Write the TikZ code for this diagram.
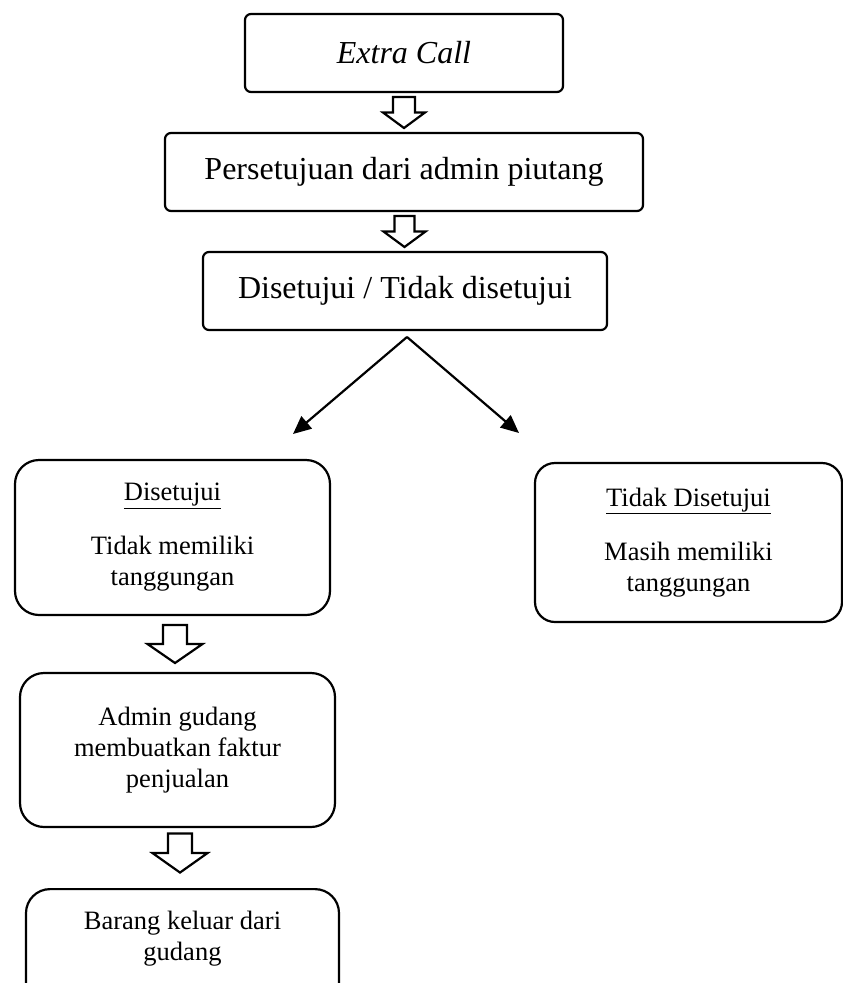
\documentclass[tikz,border=0pt]{standalone}
\usepackage{fontspec}
\setmainfont{Liberation Serif}
\usepackage{tikz}
\usetikzlibrary{arrows.meta,positioning,calc}
\tikzset{
  topbox/.style={rectangle,draw,line width=2.2pt,rounded corners=6pt,minimum height=78pt,
    font=\fontsize{32}{38}\selectfont},
  lowbox/.style={rectangle,draw,line width=2.2pt,rounded corners=24pt,align=center,
    font=\fontsize{26.5}{31}\selectfont},
  splitarrow/.style={-{Triangle[length=18pt,width=16pt]}, line width=2.2pt},
  pics/hollowdown/.style n args={3}{code={
    \draw[line width=2.2pt] (-#1,-#3/2) -- (-#1,0) -- (-#2,0) -- (0,#3/2)
      -- (#2,0) -- (#1,0) -- (#1,-#3/2) -- cycle;
  }}
}

\begin{document}
\begin{tikzpicture}[x=1pt,y=-1pt]
  \useasboundingbox (0,0) rectangle (843,983);
  \clip (0,0) rectangle (843,983);
  % top column
  \node[topbox, minimum width=318pt, font=\fontsize{32}{38}\selectfont\itshape] (extra) at (404,53) {Extra Call};
  \node[topbox, minimum width=478pt] (approval) at (404,172) {Persetujuan dari admin piutang};
  \node[topbox, minimum width=404pt] (decision) at (405,291) {Disetujui / Tidak disetujui};
  \pic at ($(extra.south)!0.5!(approval.north)$) {hollowdown={11}{21}{31}};
  \pic at ($(approval.south)!0.5!(decision.north)$) {hollowdown={10}{21}{31}};
  % split
  \coordinate (split) at (407,337);
  \coordinate (yesend) at (293,434);
  \coordinate (noend) at (519,433);
  \draw[splitarrow] (split) -- (yesend);
  \draw[splitarrow] (split) -- (noend);
  % outcomes
  \node[lowbox, minimum width=315pt, minimum height=155pt] (yes) at (172.5,537.5)
    {\underline{Disetujui}\\[23pt]Tidak memiliki\\tanggungan};
  \node[lowbox, minimum width=307pt, minimum height=159pt, rounded corners=20pt] (no) at (688.5,542.5)
    {\underline{Tidak Disetujui}\\[23pt]Masih memiliki\\tanggungan};
  \node[lowbox, minimum width=315pt, minimum height=154pt] (invoice) at (177.5,750)
    {Admin gudang\\membuatkan faktur\\penjualan};
  \node[lowbox, minimum width=313pt, minimum height=130pt, anchor=north] (exit) at (182.5,888) {};
  \node[align=center, anchor=north, font=\fontsize{26.5}{31}\selectfont] (exittext)
    at ([yshift=-20pt]exit.north) {Barang keluar dari\\gudang};
  \pic at ($(yes.south)!0.5!(invoice.north)$) {hollowdown={12}{27.5}{38}};
  \pic at ($(invoice.south)!0.5!(exit.north)+(0,-5)$) {hollowdown={12}{27.5}{39}};
\end{tikzpicture}
\end{document}
